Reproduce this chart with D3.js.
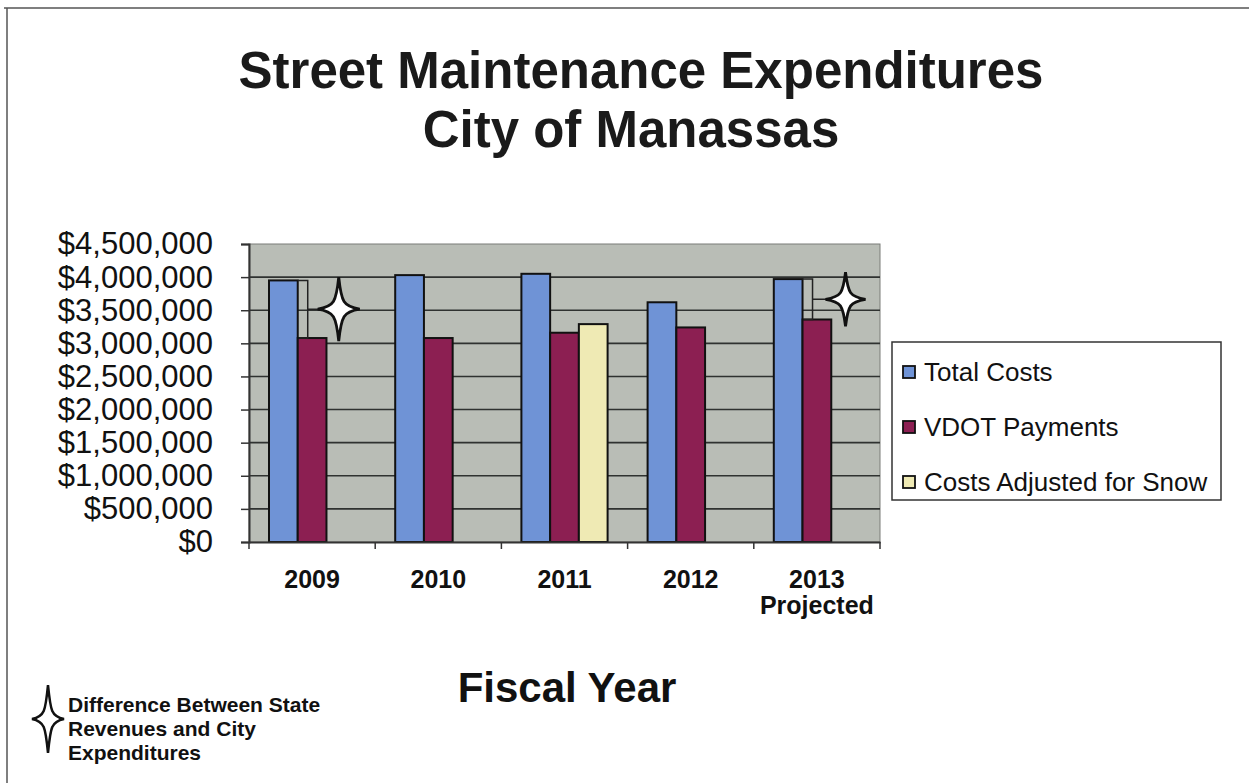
<!DOCTYPE html>
<html>
<head>
<meta charset="utf-8">
<script src="https://cdn.jsdelivr.net/npm/d3@7"></script>
<style>
  body { margin: 0; background: #fff; }
  svg { display: block; font-family: "Liberation Sans", Arial, sans-serif; }
</style>
</head>
<body>
<div id="chart"></div>
<script>
// chart values
const years = ["2009", "2010", "2011", "2012", "2013"];
const yearNotes = ["", "", "", "", "Projected"];
const seriesNames = ["Total Costs", "VDOT Payments", "Costs Adjusted for Snow"];
const totalCosts = [3950000, 4030000, 4050000, 3620000, 3970000];
const vdotPayments = [3080000, 3080000, 3160000, 3240000, 3360000];
const snowAdjusted = [null, null, 3290000, null, null];
const yTickValues = [0, 500000, 1000000, 1500000, 2000000, 2500000, 3000000, 3500000, 4000000, 4500000];
const diffYears = ["2009", "2013"];
const titleLines = ["Street Maintenance Expenditures", "City of Manassas"];
const noteLines = ["Difference Between State", "Revenues and City", "Expenditures"];

const colors = ["#6f93d6", "#8c1f52", "#efeab4"];

const W = 1249, H = 783;
const plot = { left: 249, right: 880, top: 244, bottom: 542 };

const svg = d3.select("#chart").append("svg")
  .attr("width", W)
  .attr("height", H);

// page frame (top and left edges only)
svg.append("line").attr("x1", 4).attr("x2", W).attr("y1", 8).attr("y2", 8)
  .attr("stroke", "#555").attr("stroke-width", 1.5);
svg.append("line").attr("x1", 7).attr("x2", 7).attr("y1", 8).attr("y2", H)
  .attr("stroke", "#555").attr("stroke-width", 1.5);

// title
svg.selectAll(".title")
  .data(titleLines)
  .enter()
  .append("text")
  .attr("class", "title")
  .attr("x", (d, i) => i === 0 ? 641 : 631)
  .attr("y", (d, i) => 88 + i * 59)
  .attr("text-anchor", "middle")
  .attr("font-size", 51)
  .attr("font-weight", "bold")
  .attr("fill", "#1a1a1a")
  .text((d) => d);

var x0 = d3.scaleBand().domain(years).range([plot.left, plot.right]);
var x1 = d3.scaleBand().domain(seriesNames)
  .range([20, x0.bandwidth() - 20]);
var y = d3.scaleLinear().domain([0, 4500000]).range([plot.bottom, plot.top]);

// plot background
svg.append("rect")
  .attr("x", plot.left).attr("y", plot.top)
  .attr("width", plot.right - plot.left).attr("height", plot.bottom - plot.top)
  .attr("fill", "#b9bdb6")
  .attr("stroke", "#7a7d78").attr("stroke-width", 1);

// gridlines
svg.append("g")
  .selectAll("line")
  .data(yTickValues.filter((d) => d > 0 && d < 4500000))
  .enter()
  .append("line")
  .attr("x1", plot.left).attr("x2", plot.right)
  .attr("y1", (d) => y(d)).attr("y2", (d) => y(d))
  .attr("stroke", "#2f3230").attr("stroke-width", 1.6);

// y axis
var yAxis = svg.append("g")
  .attr("transform", "translate(" + plot.left + ",0)")
  .call(d3.axisLeft(y)
    .tickValues(yTickValues)
    .tickFormat((d) => "$" + d3.format(",")(d))
    .tickSize(8)
    .tickPadding(28));
yAxis.select(".domain").attr("stroke", "#333").attr("stroke-width", 2);
yAxis.selectAll(".tick line").attr("stroke", "#333").attr("stroke-width", 1.5);
yAxis.selectAll("text")
  .attr("font-size", 31)
  .attr("font-family", "Liberation Sans, Arial, sans-serif")
  .attr("fill", "#111");

// bars
var rows = years.map((yr, i) => ({
  year: yr,
  values: [totalCosts[i], vdotPayments[i], snowAdjusted[i]]
}));

var groups = svg.append("g")
  .selectAll("g")
  .data(rows)
  .enter()
  .append("g")
  .attr("transform", (d) => "translate(" + x0(d.year) + ",0)");

groups.selectAll("rect")
  .data((d) => d.values.map((v, j) => ({ key: seriesNames[j], value: v, j: j }))
    .filter((b) => b.value != null))
  .enter()
  .append("rect")
  .attr("x", (d) => x1(d.key))
  .attr("width", x1.bandwidth())
  .attr("y", (d) => y(d.value))
  .attr("height", (d) => plot.bottom - y(d.value))
  .attr("fill", (d) => colors[d.j])
  .attr("stroke", "#111")
  .attr("stroke-width", 2);

// x axis
var xAxis = svg.append("g")
  .attr("transform", "translate(0," + plot.bottom + ")")
  .call(d3.axisBottom(x0).tickSize(0).tickFormat(""));
xAxis.select(".domain").attr("stroke", "#333").attr("stroke-width", 2);
xAxis.selectAll(".tick").remove();

svg.append("g")
  .selectAll("line")
  .data(years.map((d) => x0(d)).concat([plot.right]))
  .enter()
  .append("line")
  .attr("x1", (d) => d).attr("x2", (d) => d)
  .attr("y1", plot.bottom).attr("y2", plot.bottom + 7)
  .attr("stroke", "#333").attr("stroke-width", 1.5);

svg.append("g")
  .selectAll("text")
  .data(years)
  .enter()
  .append("text")
  .attr("x", (d) => x0(d) + x0.bandwidth() / 2)
  .attr("y", 588)
  .attr("text-anchor", "middle")
  .attr("font-size", 25)
  .attr("font-weight", "bold")
  .attr("fill", "#111")
  .text((d) => d);

svg.append("g")
  .selectAll("text")
  .data(years.filter((d, i) => yearNotes[i]))
  .enter()
  .append("text")
  .attr("x", (d) => x0(d) + x0.bandwidth() / 2)
  .attr("y", 614)
  .attr("text-anchor", "middle")
  .attr("font-size", 25)
  .attr("font-weight", "bold")
  .attr("fill", "#111")
  .text((d) => yearNotes[years.indexOf(d)]);

svg.append("text")
  .attr("x", 567)
  .attr("y", 702)
  .attr("text-anchor", "middle")
  .attr("font-size", 42)
  .attr("font-weight", "bold")
  .attr("fill", "#111")
  .text("Fiscal Year");

// four-point star
function starPath(h, v) {
  var a = 2.6, b = 0.22;
  return "M0," + (-v) +
    "C" + a + "," + (-v * b) + " " + (h * b) + "," + (-a) + " " + h + ",0" +
    "C" + (h * b) + "," + a + " " + a + "," + (v * b) + " 0," + v +
    "C" + (-a) + "," + (v * b) + " " + (-h * b) + "," + a + " " + (-h) + ",0" +
    "C" + (-h * b) + "," + (-a) + " " + (-a) + "," + (-v * b) + " 0," + (-v) + "Z";
}

// difference brackets + stars
var starSize = { "2009": [21, 32, 31], "2013": [20, 27, 33] };
diffYears.forEach(function (yr) {
  var i = years.indexOf(yr);
  var xr = x0(yr) + x1(seriesNames[0]) + x1.bandwidth();
  var yt = y(totalCosts[i]), yb = y(vdotPayments[i]);
  var bx = xr + 10, ym = (yt + yb) / 2;
  var s = starSize[yr];
  svg.append("path")
    .attr("d", "M" + xr + "," + yt + "H" + bx + "V" + yb + "H" + (xr + 1) +
      "M" + bx + "," + ym + "H" + (bx + s[2] - s[0] + 2))
    .attr("fill", "none")
    .attr("stroke", "#222")
    .attr("stroke-width", 1.5);
  svg.append("path")
    .attr("transform", "translate(" + (bx + s[2]) + "," + ym + ")")
    .attr("d", starPath(s[0], s[1]))
    .attr("fill", "#fff")
    .attr("stroke", "#111")
    .attr("stroke-width", 2.8);
});

// legend
var legend = svg.append("g");
legend.append("rect")
  .attr("x", 892).attr("y", 342)
  .attr("width", 329).attr("height", 158)
  .attr("fill", "#fff")
  .attr("stroke", "#333").attr("stroke-width", 1.5);

var items = legend.selectAll(".item")
  .data(seriesNames)
  .enter()
  .append("g")
  .attr("transform", (d, i) => "translate(903," + (372 + i * 55) + ")");

items.append("rect")
  .attr("x", 0).attr("y", -6)
  .attr("width", 12).attr("height", 12)
  .attr("fill", (d, i) => colors[i])
  .attr("stroke", "#111")
  .attr("stroke-width", 1.8);

items.append("text")
  .attr("x", 21)
  .attr("y", 9)
  .attr("font-size", 26)
  .attr("fill", "#111")
  .text((d) => d);

// note at bottom left
svg.append("path")
  .attr("transform", "translate(48,719)")
  .attr("d", starPath(16, 34))
  .attr("fill", "#fff")
  .attr("stroke", "#111")
  .attr("stroke-width", 2.5);

svg.append("g")
  .selectAll("text")
  .data(noteLines)
  .enter()
  .append("text")
  .attr("x", 68)
  .attr("y", (d, i) => 712 + i * 24)
  .attr("font-size", 21)
  .attr("font-weight", "bold")
  .attr("fill", "#111")
  .text((d) => d);
</script>
</body>
</html>
